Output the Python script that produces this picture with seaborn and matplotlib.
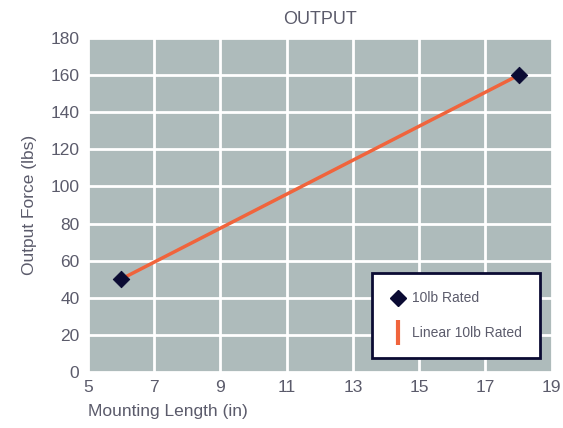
import numpy as np
import pandas as pd
import matplotlib
matplotlib.use('Agg')
import matplotlib.pyplot as plt
import seaborn as sns
from matplotlib.lines import Line2D

# data
mount_len = [6, 18]
force_rated = [50, 160]
fit_x = [6, 18]
fit_y = [50, 160]

sns.set_style('whitegrid')
plt.rcParams['font.family'] = ['Liberation Sans', 'DejaVu Sans']

txt = '#5b5b6b'
bg = '#aebbbb'
orange = '#f0643c'
navy = '#0b0b33'

fig = plt.figure(figsize=(5.63, 4.28), dpi=100)
ax = fig.add_axes([0.156, 0.131, 0.824, 0.780])
ax.set_facecolor(bg)

pts = pd.DataFrame({'x': mount_len, 'y': force_rated})
fit = pd.DataFrame({'x': fit_x, 'y': fit_y})

sns.lineplot(data=fit, x='x', y='y', color=orange, linewidth=2.5, ax=ax, zorder=3)
sns.scatterplot(data=pts, x='x', y='y', marker='D', s=70, color=navy, edgecolor=navy, ax=ax, zorder=4)

ax.set_xlim(5, 19)
ax.set_ylim(0, 180)
ax.set_xticks(np.arange(5, 20, 2))
ax.set_yticks(np.arange(0, 181, 20))
ax.grid(True, color='white', linewidth=2)
for s in ax.spines.values():
    s.set_visible(False)
ax.tick_params(axis='both', colors=txt, labelsize=12.5, length=0, pad=6)

ax.set_title('OUTPUT', color=txt, fontsize=13, pad=10)
ax.set_xlabel('Mounting Length (in)', color=txt, fontsize=12.5, loc='left', labelpad=6)
ax.set_ylabel('Output Force (lbs)', color=txt, fontsize=12.5, labelpad=10)

handles = [
    Line2D([], [], linestyle='none', marker='D', markersize=8, color=navy),
    Line2D([], [], linestyle='none', marker='|', markersize=18, markeredgewidth=3, color=orange),
]
leg = ax.legend(handles, ['10lb Rated', 'Linear 10lb Rated'], loc='lower right',
                bbox_to_anchor=(0.99, 0.02), frameon=True, fancybox=False,
                fontsize=10, labelspacing=1.5, borderpad=1.3, handletextpad=0.5,
                handlelength=1.1, borderaxespad=0.5)
leg.get_frame().set_edgecolor(navy)
leg.get_frame().set_linewidth(2)
leg.get_frame().set_facecolor('white')
leg.get_frame().set_alpha(1)
for t in leg.get_texts():
    t.set_color(txt)

fig.savefig('out.png', dpi=100)
